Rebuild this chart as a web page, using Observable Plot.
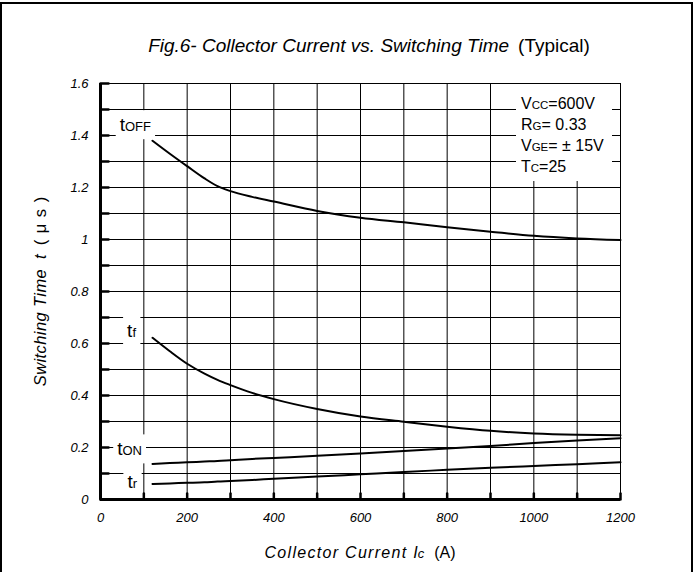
<!DOCTYPE html>
<html>
<head>
<meta charset="utf-8">
<script src="https://cdn.jsdelivr.net/npm/d3@7"></script>
<script src="https://cdn.jsdelivr.net/npm/@observablehq/plot@0.6"></script>
<style>
  html, body { margin: 0; padding: 0; background: #fff; overflow: hidden; }
  #wrap { position: relative; width: 695px; height: 572px; overflow: hidden; }
  #border { position: absolute; left: 0; top: 2px; width: 689px; height: 640px; border: 2px solid #000; pointer-events: none; }
  #chart svg { display: block; }
</style>
</head>
<body>
<div id="wrap"><div id="chart"></div><div id="border"></div></div>
<script>
// Collector current Ic (A) at which each switching time was read
const collectorCurrent = [120, 160, 200, 240, 270, 300, 350, 400, 500, 600, 700, 800, 900, 1000, 1100, 1200];

// Switching times (µs)
const tOff  = [1.380, 1.330, 1.282, 1.235, 1.205, 1.186, 1.164, 1.146, 1.110, 1.084, 1.066, 1.047, 1.030, 1.014, 1.004, 0.998];
const tFall = [0.622, 0.570, 0.522, 0.484, 0.460, 0.440, 0.410, 0.386, 0.348, 0.319, 0.299, 0.280, 0.264, 0.254, 0.249, 0.247];
const tOn   = [0.137, 0.140, 0.143, 0.146, 0.148, 0.151, 0.156, 0.160, 0.168, 0.177, 0.187, 0.196, 0.206, 0.217, 0.227, 0.236];
const tRise = [0.060, 0.062, 0.064, 0.066, 0.069, 0.071, 0.075, 0.080, 0.088, 0.097, 0.106, 0.114, 0.122, 0.129, 0.136, 0.143];

// Curve names: main letter + small suffix
const seriesKeys = ["tOFF", "tf", "tON", "tr"];
const seriesSuffix = ["OFF", "f", "ON", "r"];

// Axis ticks and grid
const xTickLabels = [0, 200, 400, 600, 800, 1000, 1200];
const xGridLines = [0, 100, 200, 300, 400, 500, 600, 700, 800, 900, 1000, 1100, 1200];
const yTickLabels = [0, 0.2, 0.4, 0.6, 0.8, 1.0, 1.2, 1.4, 1.6];
const yGridLines = [0, 0.1, 0.2, 0.3, 0.4, 0.5, 0.6, 0.7, 0.8, 0.9, 1.0, 1.1, 1.2, 1.3, 1.4, 1.5, 1.6];

// Test conditions box
const condName = ["V", "R", "V", "T"];
const condSub = ["CC", "G", "GE", "C"];
const condValue = ["=600V", "= 0.33", "= \u00b1 15V", "=25"];

const seriesValues = [tOff, tFall, tOn, tRise];
const rows = seriesKeys.flatMap((key, i) =>
  collectorCurrent.map((ic, j) => ({series: key, ic, t: seriesValues[i][j]}))
);

const FONT = "'Liberation Sans', Arial, Helvetica, sans-serif";
const tickShape = {draw(context, l) { context.moveTo(0, 0); context.lineTo(0, -l); }};

const chart = Plot.plot({
  width: 695,
  height: 572,
  marginLeft: 100,
  marginRight: 75,
  marginTop: 83,
  marginBottom: 73,
  style: {fontFamily: FONT, fontSize: "13px", color: "#000", background: "#fff"},
  x: {domain: [0, 1200]},
  y: {domain: [0, 1.6]},
  marks: [
    Plot.gridX(xGridLines, {stroke: "#000", strokeOpacity: 1, strokeWidth: 1}),
    Plot.gridY(yGridLines, {stroke: "#000", strokeOpacity: 1, strokeWidth: 1}),
    Plot.ruleX([0], {stroke: "#000", strokeWidth: 3}),
    Plot.ruleY([0], {stroke: "#000", strokeWidth: 3}),
    // inward ticks
    Plot.vector(yGridLines, {x: () => 0, y: d => d, length: 8, rotate: 90, anchor: "start", shape: tickShape, strokeWidth: 2.5, stroke: "#000"}),
    Plot.vector(xGridLines, {x: d => d, y: () => 0, length: 6, rotate: 0, anchor: "start", shape: tickShape, strokeWidth: 2.5, stroke: "#000"}),
    Plot.line(rows, {x: "ic", y: "t", z: "series", curve: "monotone-x", stroke: "#000", strokeWidth: 2}),
    Plot.axisX(xTickLabels, {tickSize: 0, tickPadding: 13, fontStyle: "italic", fontSize: 13, label: null, tickFormat: d => String(d)}),
    Plot.axisY(yTickLabels, {tickSize: 0, tickPadding: 12, fontStyle: "italic", fontSize: 13, label: null, tickFormat: d => String(+d.toFixed(1))})
  ]
});

document.getElementById("chart").appendChild(chart);

// Annotations drawn on top of the plot, positioned from the plot's scales
const svg = d3.select(chart);
const sx = chart.scale("x"), sy = chart.scale("y");
const frameL = sx.apply(0), frameR = sx.apply(1200), frameT = sy.apply(1.6), frameB = sy.apply(0);

function addRich(g, parts, attrs) {
  const t = g.append("text").attr("font-family", FONT).attr("fill", "#000").attr("text-anchor", "start");
  for (const [k, v] of Object.entries(attrs)) t.attr(k, v);
  for (const p of parts) {
    const s = t.append("tspan").text(p.text);
    if (p.size) s.attr("font-size", p.size);
    if (p.italic) s.attr("font-style", "italic");
    if (p.dx) s.attr("dx", p.dx);
    if (p.ls) s.attr("letter-spacing", p.ls);
  }
  return t;
}

function backed(g, text, px, py) {
  const b = text.node().getBBox();
  g.insert("rect", "text")
    .attr("x", b.x - px).attr("y", b.y - py)
    .attr("width", b.width + 2 * px).attr("height", b.height + 2 * py)
    .attr("fill", "#fff");
}

// Curve labels, placed just left of each curve's first point
const labelOffsets = {tOFF: [-1, -9], tf: [-16, 0], tON: [-10, -8], tr: [-15, 5]};
seriesKeys.forEach((key, i) => {
  const px = sx.apply(collectorCurrent[0]);
  const py = sy.apply(seriesValues[i][0]);
  const [dx, dy] = labelOffsets[key];
  const g = svg.append("g");
  const t = addRich(g, [{text: "t", size: 19}, {text: seriesSuffix[i], size: 13}],
    {x: px + dx, y: py + dy, "text-anchor": "end"});
  backed(g, t, 4, 4);
});

// Test conditions box
{
  const g = svg.append("g");
  g.append("rect").attr("x", frameR - 104).attr("y", frameT + 1).attr("width", 96).attr("height", 97).attr("fill", "#fff");
  condName.forEach((n, i) => {
    addRich(g, [{text: n, size: 16}, {text: condSub[i], size: 11.5}, {text: condValue[i], size: 16}],
      {x: frameR - 99, y: frameT + 26 + i * 21});
  });
}

// Title
addRich(svg, [
  {text: "Fig.6- Collector Current vs. Switching Time", italic: true},
  {text: "(Typical)", dx: 9}
], {x: 369, y: 52, "text-anchor": "middle", "font-size": 19});

// X axis label
addRich(svg, [
  {text: "Collector Current ", italic: true, ls: 1.3},
  {text: "I", italic: true},
  {text: "c", italic: true, size: 13},
  {text: "(A)", dx: 10}
], {x: (frameL + frameR) / 2, y: 558, "text-anchor": "middle", "font-size": 16});

// Y axis label
addRich(svg, [
  {text: "Switching Time  ", italic: true, ls: 0.4},
  {text: "t", italic: true},
  {text: "( \u03bc s )", dx: 9, ls: 1}
], {transform: `translate(46,${(frameT + frameB) / 2}) rotate(-90)`, "text-anchor": "middle", "font-size": 16.5});
</script>
</body>
</html>
